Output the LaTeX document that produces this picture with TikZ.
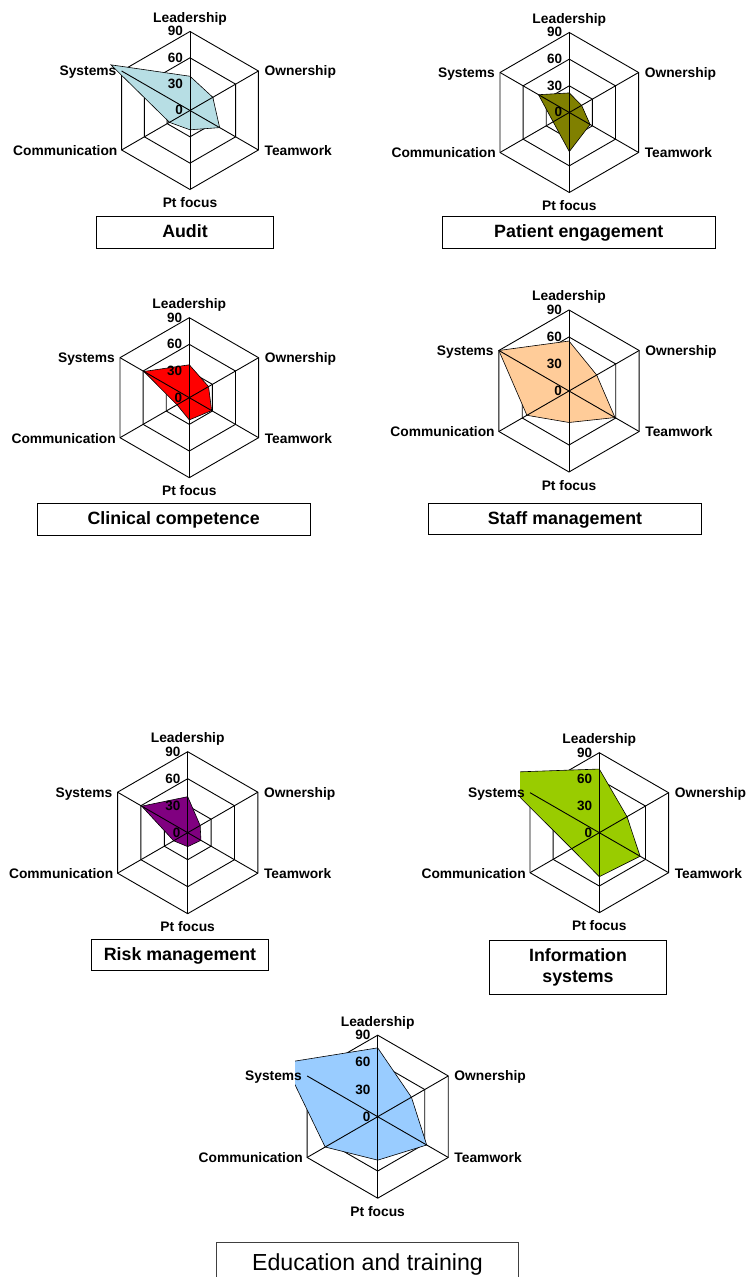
\documentclass[tikz,border=0pt]{standalone}
\usepackage{fontspec}
\setmainfont{Liberation Sans}
\definecolor{auditc}{RGB}{183,222,228}
\definecolor{patientc}{RGB}{128,128,0}
\definecolor{clinicalc}{RGB}{255,0,0}
\definecolor{staffc}{RGB}{255,204,153}
\definecolor{riskc}{RGB}{128,0,128}
\definecolor{infoc}{RGB}{153,204,0}
\definecolor{educ}{RGB}{153,204,255}
\tikzset{
  gridline/.style={draw=black, line width=0.9},
  datafill/.style={draw=black, line width=0.6},
  axislabel/.style={inner sep=0, font=\fontsize{13.8}{15}\selectfont\bfseries},
  ticklabel/.style={inner sep=0, anchor=base east, font=\fontsize{13.5}{15}\selectfont\bfseries},
  titlebox/.style={draw=black, line width=0.8, inner sep=0, align=center,
    text height=11, text depth=0, font=\fontsize{17.8}{21.7}\selectfont\bfseries},
  bigtitlebox/.style={draw=black!75, line width=0.8, inner sep=0, align=center,
    font=\fontsize{23.2}{27}\selectfont},
}
% six scores (Leadership, Ownership, Teamwork, Pt focus, Communication, Systems)
\def\radarvals#1,#2,#3,#4,#5,#6\relax{%
  \pgfmathsetmacro\rA{#1*\rR/90}%
  \pgfmathsetmacro\rB{#2*\rR/90}%
  \pgfmathsetmacro\rC{#3*\rR/90}%
  \pgfmathsetmacro\rD{#4*\rR/90}%
  \pgfmathsetmacro\rE{#5*\rR/90}%
  \pgfmathsetmacro\rF{#6*\rR/90}%
}
% #1 name, #2 centre x, #3 centre y (from top), #4 radius, #5 colour, #6 scores, #7 left edge of plot area
\newcommand\radar[7]{%
  \pgfmathsetmacro\rR{#4}%
  \radarvals#6\relax
  \begin{scope}[shift={(#2,1277-#3)}]
    \coordinate (#1-c) at (0,0);
    \foreach \k/\a in {1/90,2/30,3/-30,4/-90,5/-150,6/150}
      \coordinate (#1-v\k) at (\a:\rR);
    % rings at 30, 60 and 90
    \foreach \f in {1,2,3}
      \draw[gridline] (90:{\f*\rR/3}) -- (30:{\f*\rR/3}) -- (-30:{\f*\rR/3})
        -- (-90:{\f*\rR/3}) -- (-150:{\f*\rR/3}) -- (150:{\f*\rR/3}) -- cycle;
    % score polygon
    \begin{scope}
      \clip (#7-#2,-500) rectangle (500,500);
      \filldraw[datafill, fill=#5] (90:\rA) -- (30:\rB) -- (-30:\rC)
        -- (-90:\rD) -- (-150:\rE) -- (150:\rF) -- cycle;
    \end{scope}
    % spokes
    \foreach \k in {1,...,6}
      \draw[gridline] (#1-c) -- (#1-v\k);
    % scale
    \foreach \n/\t in {0/0,1/30,2/60,3/90}
      \node[ticklabel] (#1-t\t) at (-7,{\n*\rR/3-4.5}) {\t};
    % axis names
    \node[axislabel, anchor=base] (#1-lead) at ([yshift=9]#1-v1) {Leadership};
    \node[axislabel, anchor=base west] (#1-own) at ([xshift=6,yshift=-5]#1-v2) {Ownership};
    \node[axislabel, anchor=base west] (#1-team) at ([xshift=6,yshift=-5.5]#1-v3) {Teamwork};
    \node[axislabel, anchor=base] (#1-pt) at ([yshift=-18.3]#1-v4) {Pt focus};
    \node[axislabel, anchor=base east] (#1-comm) at ([xshift=-4,yshift=-5.5]#1-v5) {Communication};
    \node[axislabel, anchor=base east] (#1-sys) at ([xshift=-5,yshift=-5]#1-v6) {Systems};
  \end{scope}
}
\begin{document}
\begin{tikzpicture}[x=1pt,y=1pt]
  \useasboundingbox[fill=white] (0,0) rectangle (747,1277);

  \radar{audit}{190}{110.5}{79}{auditc}{39,30,39,22,27,104}{0}
  \node[titlebox, minimum width=176.6, minimum height=32.3] (audit-title)
    at (185,1277-232.2) {Audit};

  \radar{patient}{569.3}{112.5}{80}{patientc}{22,16,27,44,21,40}{0}
  \node[titlebox, minimum width=272.3, minimum height=32.3] (patient-title)
    at (578.8,1277-232.2) {Patient engagement};

  \radar{clinical}{189.3}{397.7}{80}{clinicalc}{37,25,29,25,16,59}{0}
  \node[titlebox, minimum width=272.7, minimum height=31.7] (clinical-title)
    at (173.7,1277-519.2) {Clinical competence};

  \radar{staff}{569}{391}{81}{staffc}{55.5,35.5,59,35,54,90}{0}
  \node[titlebox, minimum width=273.4, minimum height=31] (staff-title)
    at (565,1277-518.8) {Staff management};

  \radar{risk}{187.7}{832.7}{81}{riskc}{40,16,17,15.5,18,59}{0}
  \node[titlebox, minimum width=176.6, minimum height=31.4] (risk-title)
    at (180,1277-955) {Risk management};

  \radar{info}{599.3}{832.7}{80}{infoc}{71.6,36,53,49.5,36,135}{520}
  \node[titlebox, minimum width=177.4, minimum height=54.7, text height=, text depth=] (info-title)
    at (578,1277-967.5) {Information\\systems};

  \radar{edu}{377.7}{1116.7}{81.5}{educ}{76,43,62.5,48,67,119}{295}
  \node[bigtitlebox, minimum width=301.6, minimum height=45.4] (edu-title)
    at (367.5,1277-1265) {Education and training};
\end{tikzpicture}
\end{document}
